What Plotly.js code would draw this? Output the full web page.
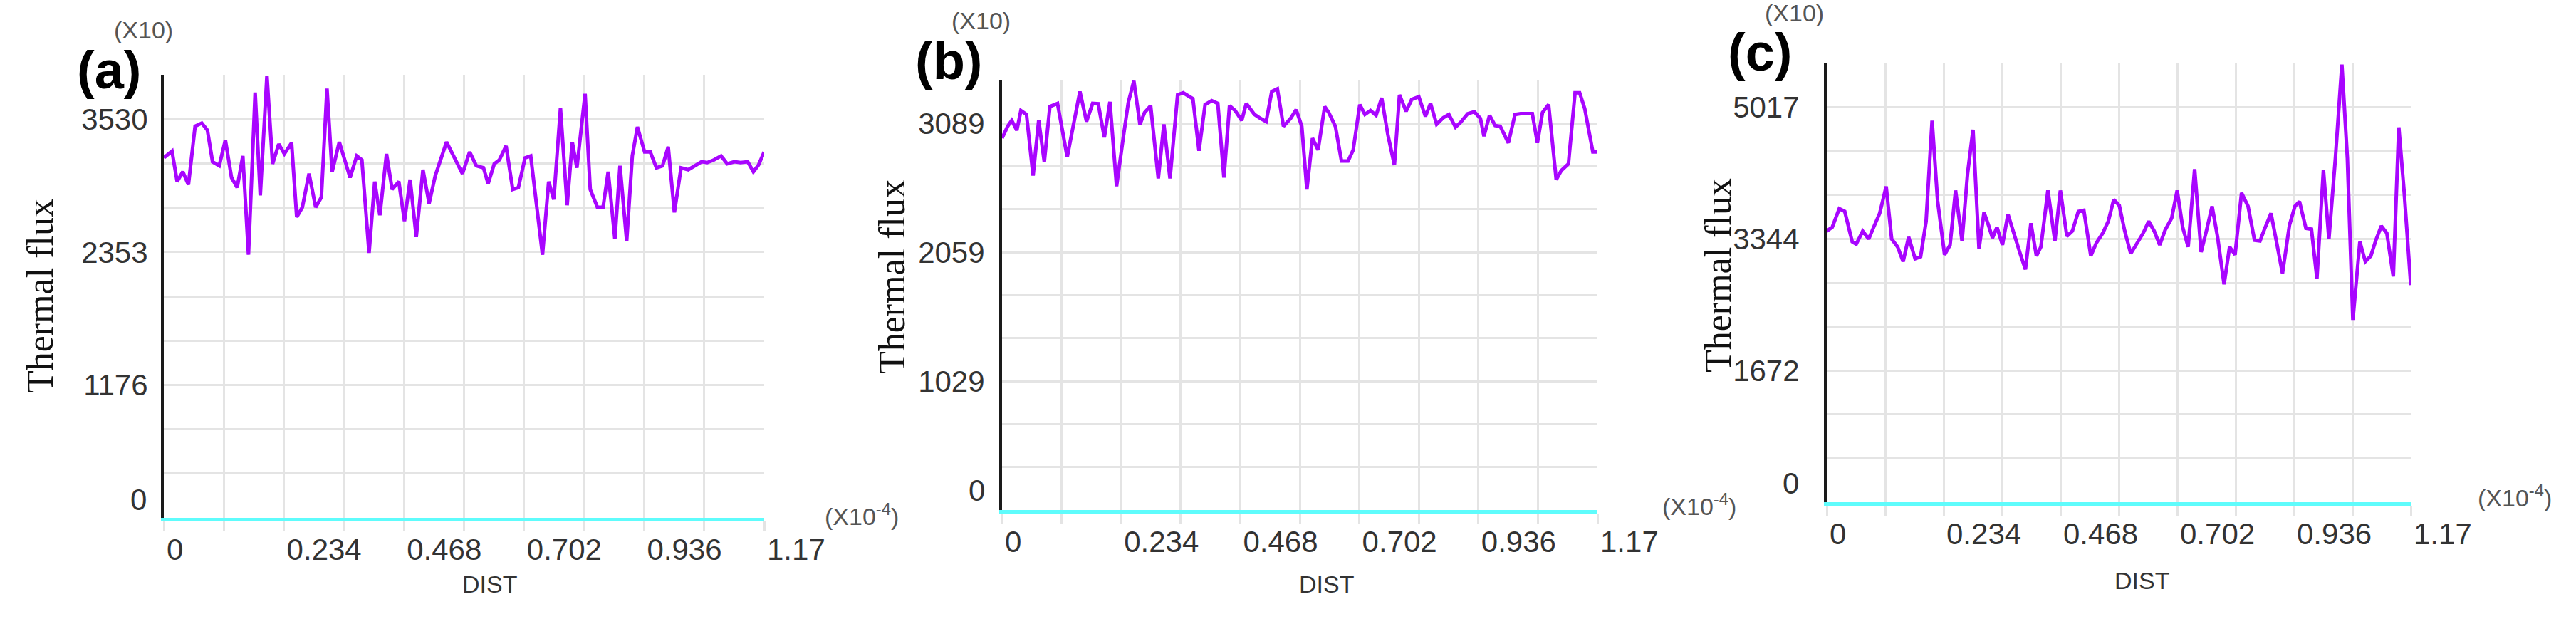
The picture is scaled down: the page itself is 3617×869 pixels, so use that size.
<!DOCTYPE html>
<html>
<head>
<meta charset="utf-8">
<script src="https://cdn.plot.ly/plotly-3.0.1.min.js"></script>
<style>html,body{margin:0;padding:0;background:#fff;}#chart{width:3617px;height:869px;}</style>
</head>
<body>
<div id="chart"></div>
<script>
// ---------- data (DIST in units of 1e-4, flux in units of 10) ----------
const distA = [0,0.016,0.026,0.037,0.048,0.061,0.074,0.085,0.095,0.108,0.120,0.132,0.143,0.154,0.165,0.178,0.188,0.201,0.212,0.224,0.235,0.249,0.259,0.270,0.283,0.296,0.307,0.318,0.328,0.342,0.363,0.376,0.386,0.400,0.411,0.421,0.434,0.445,0.458,0.469,0.480,0.492,0.505,0.517,0.529,0.551,0.582,0.596,0.609,0.623,0.632,0.644,0.654,0.667,0.680,0.691,0.704,0.715,0.738,0.750,0.760,0.773,0.786,0.796,0.805,0.821,0.831,0.845,0.856,0.866,0.879,0.889,0.902,0.913,0.923,0.937,0.948,0.960,0.972,0.983,0.995,1.008,1.022,1.034,1.048,1.059,1.072,1.086,1.098,1.112,1.124,1.138,1.149,1.159,1.170];
const fluxA = [3187,3246,2977,3064,2949,3467,3495,3432,3152,3117,3344,3012,2924,3204,2329,3765,2854,3915,3134,3309,3222,3320,2662,2749,3047,2749,2837,3800,3064,3327,3012,3204,3169,2346,2977,2679,3222,2907,2977,2627,2994,2486,3082,2784,3029,3327,3047,3239,3117,3099,2959,3134,3169,3292,2907,2924,3187,3204,2329,2977,2819,3625,2767,3327,3099,3754,2907,2749,2749,3064,2469,3117,2451,3204,3460,3239,3239,3099,3117,3285,2704,3099,3082,3117,3152,3145,3169,3204,3134,3152,3145,3152,3064,3124,3239];

const distB = [0,0.011,0.019,0.029,0.037,0.048,0.061,0.072,0.083,0.094,0.109,0.128,0.142,0.153,0.166,0.178,0.189,0.201,0.212,0.225,0.238,0.248,0.259,0.271,0.280,0.292,0.307,0.318,0.330,0.345,0.356,0.375,0.387,0.399,0.412,0.424,0.436,0.447,0.458,0.471,0.480,0.496,0.508,0.519,0.530,0.541,0.553,0.567,0.578,0.589,0.599,0.610,0.621,0.634,0.642,0.655,0.667,0.680,0.690,0.703,0.713,0.724,0.735,0.746,0.758,0.771,0.781,0.794,0.805,0.819,0.832,0.842,0.854,0.867,0.878,0.891,0.901,0.915,0.928,0.940,0.947,0.958,0.969,0.979,0.995,1.008,1.019,1.042,1.052,1.062,1.074,1.089,1.099,1.113,1.126,1.135,1.145,1.161,1.170];
const fluxB = [2971,3066,3113,3034,3192,3161,2672,3113,2782,3224,3249,2820,3113,3344,3104,3249,3246,2978,3262,2587,2971,3255,3429,3082,3176,3230,2650,3082,2650,3318,3334,3287,2871,3240,3271,3249,2656,3230,3192,3113,3249,3161,3129,3104,3344,3366,3066,3129,3199,3066,2561,2971,2877,3224,3176,3066,2789,2789,2877,3240,3161,3192,3154,3293,3003,2757,3318,3186,3281,3303,3145,3249,3082,3135,3161,3060,3098,3167,3183,3129,2987,3154,3072,3066,2934,3161,3167,3167,2934,3176,3240,2640,2713,2766,3334,3334,3208,2861,2861];

const distC = [0,0.011,0.025,0.036,0.051,0.059,0.072,0.084,0.094,0.106,0.119,0.130,0.142,0.153,0.164,0.177,0.188,0.199,0.211,0.222,0.236,0.247,0.258,0.271,0.282,0.293,0.305,0.315,0.324,0.332,0.341,0.352,0.363,0.374,0.387,0.398,0.409,0.420,0.429,0.443,0.457,0.468,0.481,0.492,0.504,0.515,0.529,0.540,0.553,0.564,0.575,0.586,0.597,0.609,0.620,0.634,0.645,0.656,0.667,0.678,0.691,0.702,0.713,0.724,0.737,0.750,0.761,0.772,0.783,0.796,0.807,0.818,0.831,0.844,0.857,0.868,0.877,0.890,0.901,0.913,0.927,0.938,0.947,0.960,0.971,0.982,0.995,1.006,1.019,1.032,1.043,1.054,1.068,1.079,1.090,1.100,1.111,1.122,1.135,1.146,1.157,1.170];
const fluxC = [3444,3494,3729,3694,3308,3278,3444,3343,3494,3669,4010,3343,3243,3058,3368,3093,3118,3569,4847,3830,3143,3268,3960,3318,4170,4732,3218,3679,3519,3358,3494,3268,3659,3419,3168,2957,3544,3128,3243,3960,3318,3960,3378,3444,3694,3709,3128,3293,3419,3569,3845,3769,3444,3158,3268,3419,3569,3444,3268,3459,3609,3960,3494,3243,4231,3178,3459,3759,3368,2767,3243,3143,3930,3759,3328,3318,3469,3669,3308,2907,3519,3759,3820,3479,3469,2842,4221,3343,4371,5560,4371,2316,3308,3058,3128,3328,3509,3419,2867,4762,3920,2757];

// tick labels
const xTickLabels = ["0","0.234","0.468","0.702","0.936","1.17"];
const yTickLabelsA = ["0","1176","2353","3530"];
const yTickLabelsB = ["0","1029","2059","3089"];
const yTickLabelsC = ["0","1672","3344","5017"];
const panelLabels = ["(a)","(b)","(c)"];
const yTitle = "Thermal flux";
const xTitle = "DIST";
const yScaleText = "(X10)";
const xScaleText = "(X10<sup>-4</sup>)";

// ---------- styling ----------
const W = 3617, H = 869;
const LINE = "#a805ff", GRID = "#e4e4e4", CYAN = "#5ffcfc", AXIS = "#1a1a1a";
const SANS = "Liberation Sans, Arial, sans-serif";
const SERIF = "Liberation Serif, Times New Roman, serif";
const tickFont = {family: SANS, size: 42, color: "#333"};

const xmax = 1.17;
const xMajor = xTickLabels.map(Number);
const xMinor = [];
for (let i = 0; i <= 10; i++) xMinor.push(xmax * i / 10);

function yTicks(labels) {
  const step = Number(labels[3]) / 9;
  const minor = [];
  for (let i = 0; i <= 10; i++) minor.push(step * i);
  return {major: [step * 3, step * 6, step * 9], minor: minor, top: step * 10};
}

function xAxis(px0, px1, anchor) {
  return {
    domain: [px0 / W, px1 / W], anchor: anchor, range: [0, xmax],
    tickmode: "array", tickvals: xMajor, ticktext: xTickLabels,
    showgrid: true, gridcolor: GRID, gridwidth: 3,
    ticks: "outside", ticklen: 14, tickwidth: 3, tickcolor: GRID,
    minor: {tickmode: "array", tickvals: xMinor, showgrid: true, gridcolor: GRID, gridwidth: 3,
            ticks: "outside", ticklen: 14, tickwidth: 3, tickcolor: GRID},
    showline: true, linecolor: CYAN, linewidth: 5, zeroline: false,
    tickfont: tickFont, ticklabelposition: "outside right", ticklabelstandoff: 4
  };
}
function yAxis(py0, py1, labels, anchor, standoff) {
  const t = yTicks(labels);
  return {
    domain: [(H - py1) / H, (H - py0) / H], anchor: anchor, range: [0, t.top],
    tickmode: "array", tickvals: t.major, ticktext: labels.slice(1),
    showgrid: true, gridcolor: GRID, gridwidth: 3,
    minor: {tickmode: "array", tickvals: t.minor, showgrid: true, gridcolor: GRID, gridwidth: 3, ticks: ""},
    ticks: "", showline: true, linecolor: AXIS, linewidth: 4, zeroline: false,
    tickfont: tickFont, ticklabelstandoff: standoff
  };
}

const traces = [
  {x: distA, y: fluxA, xaxis: "x", yaxis: "y"},
  {x: distB, y: fluxB, xaxis: "x2", yaxis: "y2"},
  {x: distC, y: fluxC, xaxis: "x3", yaxis: "y3"}
].map(t => Object.assign(t, {type: "scatter", mode: "lines", line: {color: LINE, width: 5}, hoverinfo: "skip"}));

function ann(text, px, py, font, extra) {
  return Object.assign({text: text, x: px / W, y: 1 - py / H, xref: "paper", yref: "paper",
    xanchor: "center", yanchor: "middle", showarrow: false, font: font, borderpad: 0}, extra || {});
}
const scaleFont = {family: SANS, size: 34, color: "#555"};
const distFont = {family: SANS, size: 34, color: "#333"};
const labFont = {family: SANS, size: 74, color: "#000", weight: 700};
const yTitleFont = {family: SERIF, size: 52, color: "#111"};

const annotations = [
  ann("<b>" + panelLabels[0] + "</b>", 153, 99, labFont),
  ann("<b>" + panelLabels[1] + "</b>", 1332, 86, labFont),
  ann("<b>" + panelLabels[2] + "</b>", 2471, 74, labFont),
  ann(yScaleText, 201, 42, scaleFont),
  ann(yScaleText, 1377, 29, scaleFont),
  ann(yScaleText, 2519, 18, scaleFont),
  ann(xScaleText, 1210, 722, scaleFont),
  ann(xScaleText, 2386, 708, scaleFont),
  ann(xScaleText, 3531, 696, scaleFont),
  ann(xTitle, 687, 820, distFont),
  ann(xTitle, 1862, 820, distFont),
  ann(xTitle, 3007, 815, distFont),
  ann(yTitle, 56, 416, yTitleFont, {textangle: -90}),
  ann(yTitle, 1253, 389, yTitleFont, {textangle: -90}),
  ann(yTitle, 2412, 387, yTitleFont, {textangle: -90}),
  // the "0" value labels sit slightly above the zero line in the original
  ann(yTickLabelsA[0], 194, 701, tickFont),
  ann(yTickLabelsB[0], 1371, 688, tickFont),
  ann(yTickLabelsC[0], 2514, 678, tickFont)
];

const layout = {
  width: W, height: H, margin: {l: 0, r: 0, t: 0, b: 0},
  paper_bgcolor: "#fff", plot_bgcolor: "#fff", showlegend: false,
  xaxis: xAxis(230, 1073, "y"),
  yaxis: yAxis(105, 727, yTickLabelsA, "x", 10),
  xaxis2: xAxis(1407, 2243, "y2"),
  yaxis2: yAxis(113, 716, yTickLabelsB, "x2", 12),
  xaxis3: xAxis(2565, 3385, "y3"),
  yaxis3: yAxis(89, 705, yTickLabelsC, "x3", 26),
  annotations: annotations
};

Plotly.newPlot("chart", traces, layout, {staticPlot: true, displayModeBar: false});
</script>
</body>
</html>
